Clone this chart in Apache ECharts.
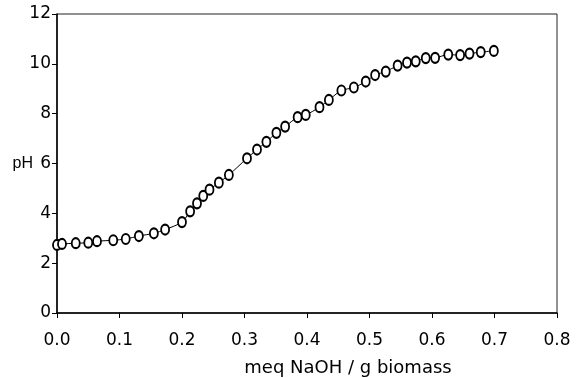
<html>

<head>
  <script src="https://cdnjs.cloudflare.com/ajax/libs/echarts/6.0.0/echarts.min.js"></script>
</head>

<body style="margin:0;background:#fff;">
  <div id="main" style="width: 579px;height:378px;"></div>
  <script>
    // titration curve
    var naoh = [0, 0.008, 0.030, 0.050, 0.064, 0.090, 0.110, 0.131, 0.155, 0.173,
      0.200, 0.213, 0.224, 0.234, 0.244, 0.259, 0.275, 0.304, 0.320, 0.335,
      0.351, 0.365, 0.385, 0.398, 0.420, 0.435, 0.455, 0.475, 0.494, 0.509,
      0.526, 0.545, 0.560, 0.574, 0.590, 0.605, 0.626, 0.645, 0.660, 0.678, 0.699];
    var ph = [2.73, 2.77, 2.80, 2.82, 2.88, 2.92, 2.97, 3.09, 3.20, 3.35,
      3.65, 4.08, 4.40, 4.70, 4.95, 5.23, 5.54, 6.21, 6.56, 6.87,
      7.23, 7.48, 7.86, 7.95, 8.26, 8.55, 8.93, 9.05, 9.29, 9.55,
      9.69, 9.93, 10.05, 10.10, 10.23, 10.24, 10.37, 10.35, 10.41, 10.47, 10.52];
    var xTitle = 'meq NaOH / g biomass';
    var yTitle = 'pH';

    var myChart = echarts.init(document.getElementById('main'));
    var points = naoh.map((x, i) => [x, ph[i]]);
    var font = 'DejaVu Sans';

    option = {
      animation: false,
      grid: {
        left: 57,
        right: 22,
        top: 14,
        bottom: 65,
        outerBoundsMode: 'none',
        containLabel: false,
        show: true,
        borderColor: '#222',
        borderWidth: 1
      },
      xAxis: {
        type: 'value',
        min: 0,
        max: 0.8,
        interval: 0.1,
        name: xTitle,
        nameLocation: 'middle',
        nameMoveOverlap: false,
        nameGap: 37,
        nameTextStyle: {
          color: '#000', fontFamily: font, fontSize: 18,
          padding: [0, 0, 0, 82]
        },
        axisLine: { lineStyle: { color: '#000', width: 1.5 } },
        axisTick: { length: 5, lineStyle: { color: '#000' } },
        axisLabel: {
          color: '#000', fontFamily: font, fontSize: 17, margin: 11,
          formatter: v => v.toFixed(1)
        },
        splitLine: { show: false }
      },
      yAxis: {
        type: 'value',
        min: 0,
        max: 12,
        interval: 2,
        name: yTitle,
        nameLocation: 'middle',
        nameMoveOverlap: false,
        nameRotate: 0,
        nameGap: 24,
        nameTextStyle: { color: '#000', fontFamily: 'Liberation Sans', fontSize: 16 },
        axisLine: { show: true, lineStyle: { color: '#000', width: 1.5 } },
        axisTick: { show: true, length: 5, lineStyle: { color: '#000' } },
        axisLabel: { color: '#000', fontFamily: font, fontSize: 17, margin: 6 },
        splitLine: { show: false }
      },
      series: [{
        type: 'line',
        data: points,
        smooth: 0.3,
        symbol: 'emptyCircle',
        symbolSize: [8, 10],
        clip: false,
        lineStyle: { color: '#000', width: 1 },
        itemStyle: { color: '#000', borderColor: '#000', borderWidth: 1 }
      }]
    };

    myChart.setOption(option);

  </script>
</body>

</html>
